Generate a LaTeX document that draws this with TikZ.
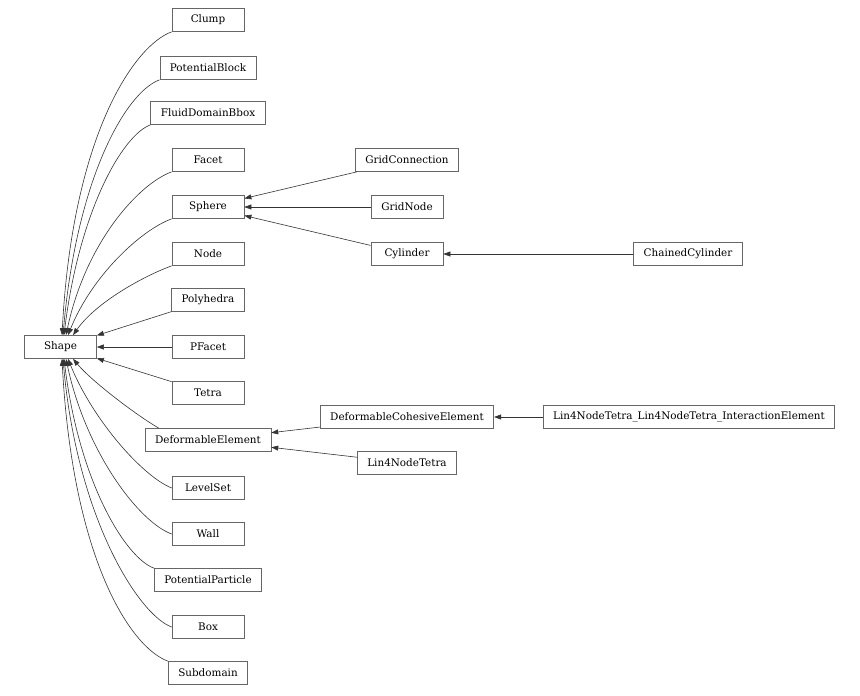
\documentclass[tikz,border=0pt]{standalone}
\usepackage{fontspec}
\setmainfont{DejaVu Serif}
\usetikzlibrary{arrows.meta}

\begin{document}
\begin{tikzpicture}[x=1pt,y=1pt,
	cls/.style={draw=black!60, line width=0.7pt, minimum width=72pt, minimum height=23pt, inner xsep=10pt, inner ysep=2pt, font=\fontsize{10.4}{12}\selectfont},
	inh/.style={draw=black!80, line width=0.6pt, -{Triangle[length=7pt,width=5pt]}}]
	\useasboundingbox (0,0) rectangle (860,-696);
	% base class
	\node[cls] (Shape) at (60.5,-347) {Shape};
	% direct subclasses
	\node[cls] (Clump) at (208,-20) {Clump};
	\node[cls] (PotentialBlock) at (208,-68) {PotentialBlock};
	\node[cls] (FluidDomainBbox) at (208,-113) {FluidDomainBbox};
	\node[cls] (Facet) at (208,-160) {Facet};
	\node[cls] (Sphere) at (208,-207) {Sphere};
	\node[cls] (Node) at (208,-254) {Node};
	\node[cls] (Polyhedra) at (208,-300) {Polyhedra};
	\node[cls] (PFacet) at (208,-347) {PFacet};
	\node[cls] (Tetra) at (208,-393) {Tetra};
	\node[cls] (DeformableElement) at (208,-440) {DeformableElement};
	\node[cls] (LevelSet) at (208,-488) {LevelSet};
	\node[cls] (Wall) at (208,-534) {Wall};
	\node[cls] (PotentialParticle) at (208,-580) {PotentialParticle};
	\node[cls] (Box) at (208,-627) {Box};
	\node[cls] (Subdomain) at (208,-673) {Subdomain};
	% deeper subclasses
	\node[cls] (GridConnection) at (407,-160) {GridConnection};
	\node[cls] (GridNode) at (407,-207) {GridNode};
	\node[cls] (Cylinder) at (407,-254) {Cylinder};
	\node[cls] (ChainedCylinder) at (688,-254) {ChainedCylinder};
	\node[cls] (DeformableCohesiveElement) at (407,-417) {DeformableCohesiveElement};
	\node[cls] (Lin4NodeTetra) at (407,-463) {Lin4NodeTetra};
	\node[cls] (Lin4Interaction) at (689,-417) {Lin4NodeTetra\_Lin4NodeTetra\_InteractionElement};

	% edges into Shape
	\draw[inh] (Clump.south west) .. controls +(200:40) and +(87:200) .. ([xshift=1.5pt]Shape.north);
	\draw[inh] (PotentialBlock.south west) .. controls +(200:35) and +(85:160) .. ([xshift=2.5pt]Shape.north);
	\draw[inh] (FluidDomainBbox.south west) .. controls +(200:30) and +(83:125) .. ([xshift=3.5pt]Shape.north);
	\draw[inh] (Facet.south west) .. controls +(200:35) and +(78:95) .. ([xshift=5.5pt]Shape.north);
	\draw[inh] (Sphere.south west) .. controls +(200:32) and +(68:65) .. ([xshift=7.5pt]Shape.north);
	\draw[inh] (Node.south west) .. controls +(200:30) and +(55:40) .. ([xshift=12.5pt]Shape.north);
	\draw[inh] (Polyhedra) -- (Shape);
	\draw[inh] (PFacet) -- (Shape);
	\draw[inh] (Tetra) -- (Shape);
	\draw[inh] ([xshift=14pt]DeformableElement.north west) .. controls +(150:25) and +(-50:30) .. ([xshift=12.5pt]Shape.south);
	\draw[inh] (LevelSet.west) .. controls +(158:32) and +(-68:65) .. ([xshift=7.5pt]Shape.south);
	\draw[inh] (Wall.west) .. controls +(160:35) and +(-78:95) .. ([xshift=5.5pt]Shape.south);
	\draw[inh] (PotentialParticle.north west) .. controls +(160:30) and +(-83:125) .. ([xshift=3.5pt]Shape.south);
	\draw[inh] (Box.west) .. controls +(160:35) and +(-85:160) .. ([xshift=2.5pt]Shape.south);
	\draw[inh] (Subdomain.north west) .. controls +(160:40) and +(-87:200) .. ([xshift=1.5pt]Shape.south);

	% deeper edges
	\draw[inh] (GridConnection) -- (Sphere);
	\draw[inh] (GridNode) -- (Sphere);
	\draw[inh] (Cylinder) -- (Sphere);
	\draw[inh] (ChainedCylinder) -- (Cylinder);
	\draw[inh] (DeformableCohesiveElement) -- (DeformableElement);
	\draw[inh] (Lin4NodeTetra) -- (DeformableElement);
	\draw[inh] (Lin4Interaction) -- (DeformableCohesiveElement);
\end{tikzpicture}
\end{document}
